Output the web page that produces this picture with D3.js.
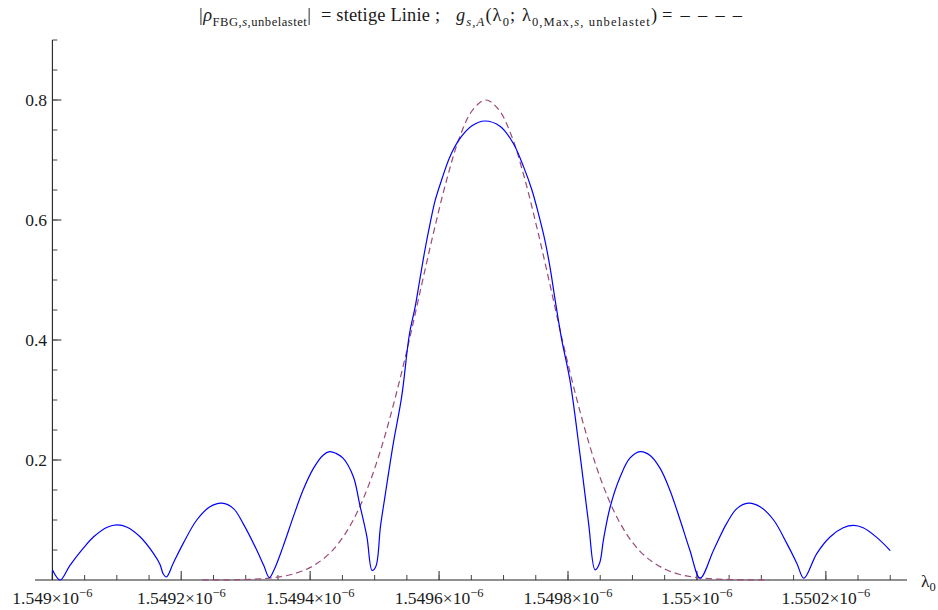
<!DOCTYPE html>
<html>
<head>
<meta charset="utf-8">
<script src="https://cdn.jsdelivr.net/npm/d3@7"></script>
<style>
  html, body { margin: 0; padding: 0; background: #ffffff; }
  svg { display: block; }
  text { font-family: "Liberation Serif", "Times New Roman", Times, serif; fill: #1a1a1a; }
</style>
</head>
<body>
<script>
// ---------- data (wavelength in nm, i.e. value × 1e-9 m) ----------
const lambdaRho = [
  1549.000, 1549.012, 1549.027, 1549.048, 1549.064, 1549.085, 1549.100, 1549.116, 1549.136, 1549.157,
  1549.167, 1549.172, 1549.177, 1549.1875, 1549.203, 1549.224, 1549.2445, 1549.263, 1549.281, 1549.296,
  1549.317, 1549.328, 1549.3365, 1549.344, 1549.358, 1549.374, 1549.389, 1549.405, 1549.420, 1549.430,
  1549.440, 1549.451, 1549.467, 1549.477, 1549.488, 1549.496, 1549.502, 1549.509, 1549.516, 1549.529,
  1549.542, 1549.554, 1549.563, 1549.570, 1549.578, 1549.586, 1549.594, 1549.604, 1549.617, 1549.6325,
  1549.651, 1549.671, 1549.695, 1549.715, 1549.731, 1549.744, 1549.754, 1549.764, 1549.772, 1549.780,
  1549.790, 1549.803, 1549.819, 1549.832, 1549.842, 1549.849, 1549.855, 1549.865, 1549.881, 1549.896,
  1549.912, 1549.927, 1549.943, 1549.958, 1549.974, 1549.989, 1550.005, 1550.026, 1550.046, 1550.062,
  1550.080, 1550.098, 1550.119, 1550.1395, 1550.155, 1550.166, 1550.186, 1550.207, 1550.227, 1550.243,
  1550.258, 1550.279, 1550.300
];
const rhoUnbelastet = [
  0.017, 0.000, 0.024, 0.053, 0.072, 0.088, 0.092, 0.088, 0.072, 0.044,
  0.026, 0.010, 0.005, 0.028, 0.061, 0.100, 0.122, 0.128, 0.119, 0.094,
  0.050, 0.024, 0.004, 0.017, 0.056, 0.106, 0.150, 0.186, 0.208, 0.214,
  0.211, 0.203, 0.172, 0.125, 0.072, 0.016, 0.023, 0.089, 0.139, 0.228,
  0.306, 0.410, 0.456, 0.500, 0.550, 0.594, 0.633, 0.667, 0.706, 0.736,
  0.757, 0.765, 0.756, 0.728, 0.689, 0.650, 0.611, 0.567, 0.522, 0.467,
  0.402, 0.333, 0.206, 0.094, 0.017, 0.028, 0.067, 0.120, 0.172, 0.203,
  0.214, 0.208, 0.186, 0.150, 0.100, 0.050, 0.003, 0.050, 0.094, 0.119,
  0.128, 0.122, 0.100, 0.061, 0.028, 0.003, 0.044, 0.072, 0.087, 0.091,
  0.087, 0.071, 0.049
];

const lambdaGauss = [
  1549.2325, 1549.2525, 1549.2725, 1549.2925, 1549.3125, 1549.3325, 1549.3525, 1549.3725, 1549.3925,
  1549.4125, 1549.4325, 1549.4525, 1549.4725, 1549.4925, 1549.5125, 1549.5325, 1549.5525, 1549.5725,
  1549.5925, 1549.6125, 1549.6325, 1549.6525, 1549.6725, 1549.6925, 1549.7125, 1549.7325, 1549.7525,
  1549.7725, 1549.7925, 1549.8125, 1549.8325, 1549.8525, 1549.8725, 1549.8925, 1549.9125, 1549.9325,
  1549.9525, 1549.9725, 1549.9925, 1550.0125, 1550.0325, 1550.0525, 1550.0725, 1550.0925, 1550.1125
];
const gGauss = [
  0.0001, 0.00014, 0.0003, 0.0007, 0.0014, 0.0027, 0.0052, 0.0096, 0.017,
  0.029, 0.047, 0.074, 0.112, 0.163, 0.228, 0.306, 0.394, 0.490,
  0.584, 0.670, 0.740, 0.784, 0.800, 0.784, 0.740, 0.670, 0.584,
  0.490, 0.394, 0.306, 0.228, 0.163, 0.112, 0.074, 0.047, 0.029,
  0.017, 0.0096, 0.0052, 0.0027, 0.0014, 0.0007, 0.0003, 0.00014, 0.0001
];

const xTickValues = [1549.0, 1549.2, 1549.4, 1549.6, 1549.8, 1550.0, 1550.2];
const xTickMantissa = ["1.549", "1.5492", "1.5494", "1.5496", "1.5498", "1.55", "1.5502"];
const xTickExponent = "\u22126";
const yTickValues = [0.2, 0.4, 0.6, 0.8];
const yTickLabels = ["0.2", "0.4", "0.6", "0.8"];

// ---------- layout ----------
const W = 938, H = 610;
const svg = d3.select("body").append("svg").attr("width", W).attr("height", H);
svg.append("rect").attr("width", W).attr("height", H).attr("fill", "#ffffff");

const x = d3.scaleLinear().domain([1548.973, 1550.326]).range([35, 907]);
const y = d3.scaleLinear().domain([0, 0.9]).range([580, 40]);
const x0 = 1549.0; // y axis position

// ---------- axes ----------
const axisColor = "#222";
const g = svg.append("g");

const xMinor = d3.range(0, 27).map(i => 1549.0 + i * 0.05);
g.selectAll(".xminor").data(xMinor).enter().append("line")
  .attr("x1", d => x(d)).attr("x2", d => x(d))
  .attr("y1", y(0)).attr("y2", y(0) - 5)
  .attr("stroke", "#444").attr("stroke-width", 1);
g.selectAll(".xmajor").data(xTickValues).enter().append("line")
  .attr("x1", d => x(d)).attr("x2", d => x(d))
  .attr("y1", y(0)).attr("y2", y(0) - 9)
  .attr("stroke", "#666").attr("stroke-width", 1.4);

const yMinor = d3.range(1, 19).map(i => i * 0.05);
g.selectAll(".yminor").data(yMinor).enter().append("line")
  .attr("x1", x(x0)).attr("x2", x(x0) + 5)
  .attr("y1", d => y(d)).attr("y2", d => y(d))
  .attr("stroke", "#444").attr("stroke-width", 1);
g.selectAll(".ymajor").data(yTickValues).enter().append("line")
  .attr("x1", x(x0)).attr("x2", x(x0) + 9)
  .attr("y1", d => y(d)).attr("y2", d => y(d))
  .attr("stroke", "#666").attr("stroke-width", 1.4);

g.append("line").attr("x1", x.range()[0]).attr("x2", x.range()[1])
  .attr("y1", y(0)).attr("y2", y(0)).attr("stroke", axisColor).attr("stroke-width", 1.1);
g.append("line").attr("x1", x(x0)).attr("x2", x(x0))
  .attr("y1", y(0)).attr("y2", y(0.9)).attr("stroke", axisColor).attr("stroke-width", 1.1);

// x tick labels
const xl = g.selectAll(".xlab").data(xTickValues).enter().append("text")
  .attr("x", d => x(d)).attr("y", 604)
  .attr("text-anchor", "middle").attr("font-size", 17.5);
xl.append("tspan").text((d, i) => xTickMantissa[i] + "\u00d710");
xl.append("tspan").attr("dy", -7.5).attr("font-size", 12.5).text(xTickExponent);

// y tick labels
g.selectAll(".ylab").data(yTickValues).enter().append("text")
  .attr("x", 47).attr("y", d => y(d) + 6)
  .attr("text-anchor", "end").attr("font-size", 17.5)
  .text((d, i) => yTickLabels[i]);

// axis label λ0
const lam = g.append("text").attr("x", 921).attr("y", 587).attr("font-size", 17.5);
lam.append("tspan").text("\u03bb");
lam.append("tspan").attr("dy", 4).attr("font-size", 12.5).text("0");

// ---------- curves ----------
const lineRho = d3.line().x(i => x(lambdaRho[i])).y(i => y(rhoUnbelastet[i])).curve(d3.curveCatmullRom.alpha(0.5));
const lineG = d3.line().x(i => x(lambdaGauss[i])).y(i => y(gGauss[i])).curve(d3.curveCatmullRom.alpha(0.5));

svg.append("path").attr("d", lineG(d3.range(lambdaGauss.length)))
  .attr("fill", "none").attr("stroke", "#9b4a78").attr("stroke-width", 1.2)
  .attr("stroke-dasharray", "6.5,4");
svg.append("path").attr("d", lineRho(d3.range(lambdaRho.length)))
  .attr("fill", "none").attr("stroke", "#0000ff").attr("stroke-width", 1.2);

// ---------- title (typeset in pieces, Mathematica-like spacing) ----------
const fs = 18.4, ss = 12.6, ty = 21;
function piece(x, width, parts) {
  const t = svg.append("text").attr("x", x).attr("y", ty).attr("font-size", fs);
  let sub = false;
  parts.forEach(p => {
    const s = t.append("tspan").text(p.t);
    if (p.i) s.attr("font-style", "italic");
    if (p.s) { s.attr("font-size", ss); if (!sub) { s.attr("dy", 5); sub = true; } }
    else if (sub) { s.attr("dy", -5); sub = false; }
  });
  if (width) {
    const n = t.text().length;
    const nat = t.node().getComputedTextLength();
    if (n > 1 && nat < width) t.attr("letter-spacing", ((width - nat) / (n - 1)).toFixed(3));
  }
  return t;
}
piece(199, 112, [
  {t: "|"}, {t: "\u03c1", i: 1},
  {t: "FBG,", s: 1}, {t: "s", s: 1, i: 1}, {t: ",unbelastet", s: 1},
  {t: "|"}
]);
piece(321, 119, [{t: "= stetige Linie ;"}]);
piece(456, 201, [
  {t: "g", i: 1}, {t: "s,A", s: 1, i: 1},
  {t: "(\u03bb"}, {t: "0", s: 1}, {t: "; \u03bb"},
  {t: "0,Max,", s: 1}, {t: "s", s: 1, i: 1}, {t: ", unbelastet", s: 1},
  {t: ")"}
]);
piece(662, 80, [{t: "= \u2013 \u2013 \u2013 \u2013"}]);
</script>
</body>
</html>
